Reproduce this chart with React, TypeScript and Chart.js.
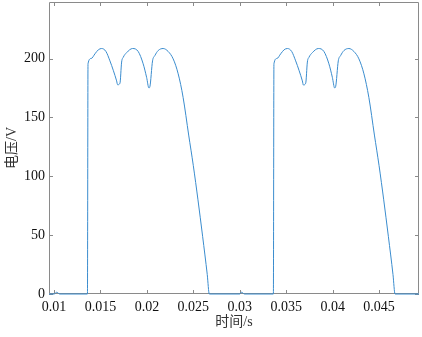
import React, { useEffect, useRef } from "react";
import { Chart, registerables } from "chart.js";

Chart.register(...registerables);

const TIME = [
  0.00946, 0.0100, 0.0103, 0.0106, 0.01360,
  0.01366, 0.0140, 0.01441, 0.01477, 0.01513, 0.01559, 0.01602, 0.01638, 0.01674, 0.01685, 0.0171,
  0.01728, 0.01745, 0.01782, 0.01846, 0.01906, 0.0196, 0.01997, 0.02022, 0.02032,
  0.02061, 0.02086, 0.02122, 0.02175, 0.02229, 0.02283, 0.02337, 0.0239, 0.0245, 0.0250, 0.0255, 0.0260, 0.0265, 0.02672,
  0.0300, 0.0302, 0.0305, 0.03362,
  0.03368, 0.0340, 0.03441, 0.03477, 0.03513, 0.03559, 0.03602, 0.03638, 0.03674, 0.03685, 0.0371,
  0.03728, 0.03745, 0.03782, 0.03846, 0.03906, 0.0396, 0.03997, 0.04022, 0.04032,
  0.04061, 0.04086, 0.04122, 0.04175, 0.04229, 0.04283, 0.04337, 0.0439, 0.0445, 0.0450, 0.0455, 0.0460, 0.0465, 0.04672,
  0.0493,
];

const VOLTAGE = [
  0, 0, 1.5, 0, 0,
  195.5, 200, 204, 207.4, 208.5, 206, 198, 190, 181, 177.7, 179,
  197, 201, 205, 208.5, 206, 195.5, 184, 175, 176,
  198, 202.5, 206.8, 208.5, 206, 199.7, 187, 167, 135, 109, 80, 49, 16.5, 0,
  0, 1.5, 0, 0,
  195.5, 200, 204, 207.4, 208.5, 206, 198, 190, 181, 177.5, 179,
  197, 201, 205, 208.5, 206, 195.5, 184, 175, 176,
  198, 202.5, 206.8, 208.5, 206, 199.7, 187, 167, 135, 109, 80, 49, 16.5, 0,
  0,
];

const X_TICKS = [0.01, 0.015, 0.02, 0.025, 0.03, 0.035, 0.04, 0.045];
const Y_TICKS = [0, 50, 100, 150, 200];

const X_TITLE = "时间/s";
const Y_TITLE = "电压/V";

const AXIS_COLOR = "#8a8a8a";
const FONT = "'Liberation Serif', 'Noto Sans CJK SC', serif";

const boxPlugin = {
  id: "matlabBox",
  beforeDatasetsDraw(chart: any) {
    const { ctx, chartArea } = chart;
    const { left, right, top, bottom } = chartArea;
    const xs = chart.scales.x;
    const ys = chart.scales.y;
    const tl = 4;
    ctx.save();
    ctx.strokeStyle = AXIS_COLOR;
    ctx.lineWidth = 1;
    ctx.beginPath();
    ctx.rect(left + 0.5, top + 0.5, right - left - 1, bottom - top - 1);
    for (const v of X_TICKS) {
      const px = Math.round(xs.getPixelForValue(v)) + 0.5;
      ctx.moveTo(px, bottom);
      ctx.lineTo(px, bottom - tl);
      ctx.moveTo(px, top);
      ctx.lineTo(px, top + tl);
    }
    for (const v of Y_TICKS) {
      const py = Math.round(ys.getPixelForValue(v)) + 0.5;
      ctx.moveTo(left, py);
      ctx.lineTo(left + tl, py);
      ctx.moveTo(right, py);
      ctx.lineTo(right - tl, py);
    }
    ctx.stroke();
    ctx.restore();
  },
};

export default function App() {
  const ref = useRef<HTMLCanvasElement>(null);

  useEffect(() => {
    if (!ref.current) return;
    const data = TIME.map((t, i) => ({ x: t, y: VOLTAGE[i] }));
    const chart = new Chart(ref.current, {
      type: "line",
      data: {
        datasets: [
          {
            data,
            borderColor: "#3a8cce",
            borderWidth: 1,
            pointRadius: 0,
            fill: false,
            cubicInterpolationMode: "monotone",
            clip: 4,
          } as any,
        ],
      },
      plugins: [boxPlugin],
      options: {
        animation: false,
        responsive: false,
        devicePixelRatio: 1,
        layout: { padding: { left: 0, right: 3, top: 2, bottom: 0 } },
        plugins: { legend: { display: false }, tooltip: { enabled: false } },
        scales: {
          x: {
            type: "linear",
            min: 0.00946,
            max: 0.0493,
            grid: { display: false, drawTicks: false },
            border: { display: false },
            afterBuildTicks: (s: any) => {
              s.ticks = X_TICKS.map((v) => ({ value: v }));
            },
            afterFit: (s: any) => {
              s.height = 43;
              s.paddingLeft = 0;
              s.paddingRight = 0;
            },
            ticks: {
              color: "#111",
              font: { family: FONT, size: 14 },
              padding: 5,
              maxRotation: 0,
              autoSkip: false,
              callback: (v: any) => String(v),
            },
            title: {
              display: true,
              text: X_TITLE,
              color: "#333",
              font: { family: FONT, size: 14 },
              padding: { top: 0, bottom: 6 },
            },
          },
          y: {
            type: "linear",
            min: 0,
            max: 248,
            grid: { display: false, drawTicks: false },
            border: { display: false },
            afterBuildTicks: (s: any) => {
              s.ticks = Y_TICKS.map((v) => ({ value: v }));
            },
            afterFit: (s: any) => {
              s.width = 49;
              s.paddingTop = 0;
              s.paddingBottom = 0;
            },
            ticks: {
              color: "#111",
              font: { family: FONT, size: 14 },
              padding: 4,
              autoSkip: false,
              callback: (v: any) => String(v),
            },
            title: {
              display: true,
              text: Y_TITLE,
              color: "#333",
              font: { family: FONT, size: 14 },
              padding: { top: 4, bottom: 0 },
            },
          },
        },
      },
    });
    return () => chart.destroy();
  }, []);

  return (
    <div style={{ position: "fixed", left: 0, top: 0, width: 422, height: 337, background: "#fff" }}>
      <canvas ref={ref} width={422} height={337} style={{ width: 422, height: 337, display: "block" }} />
    </div>
  );
}
